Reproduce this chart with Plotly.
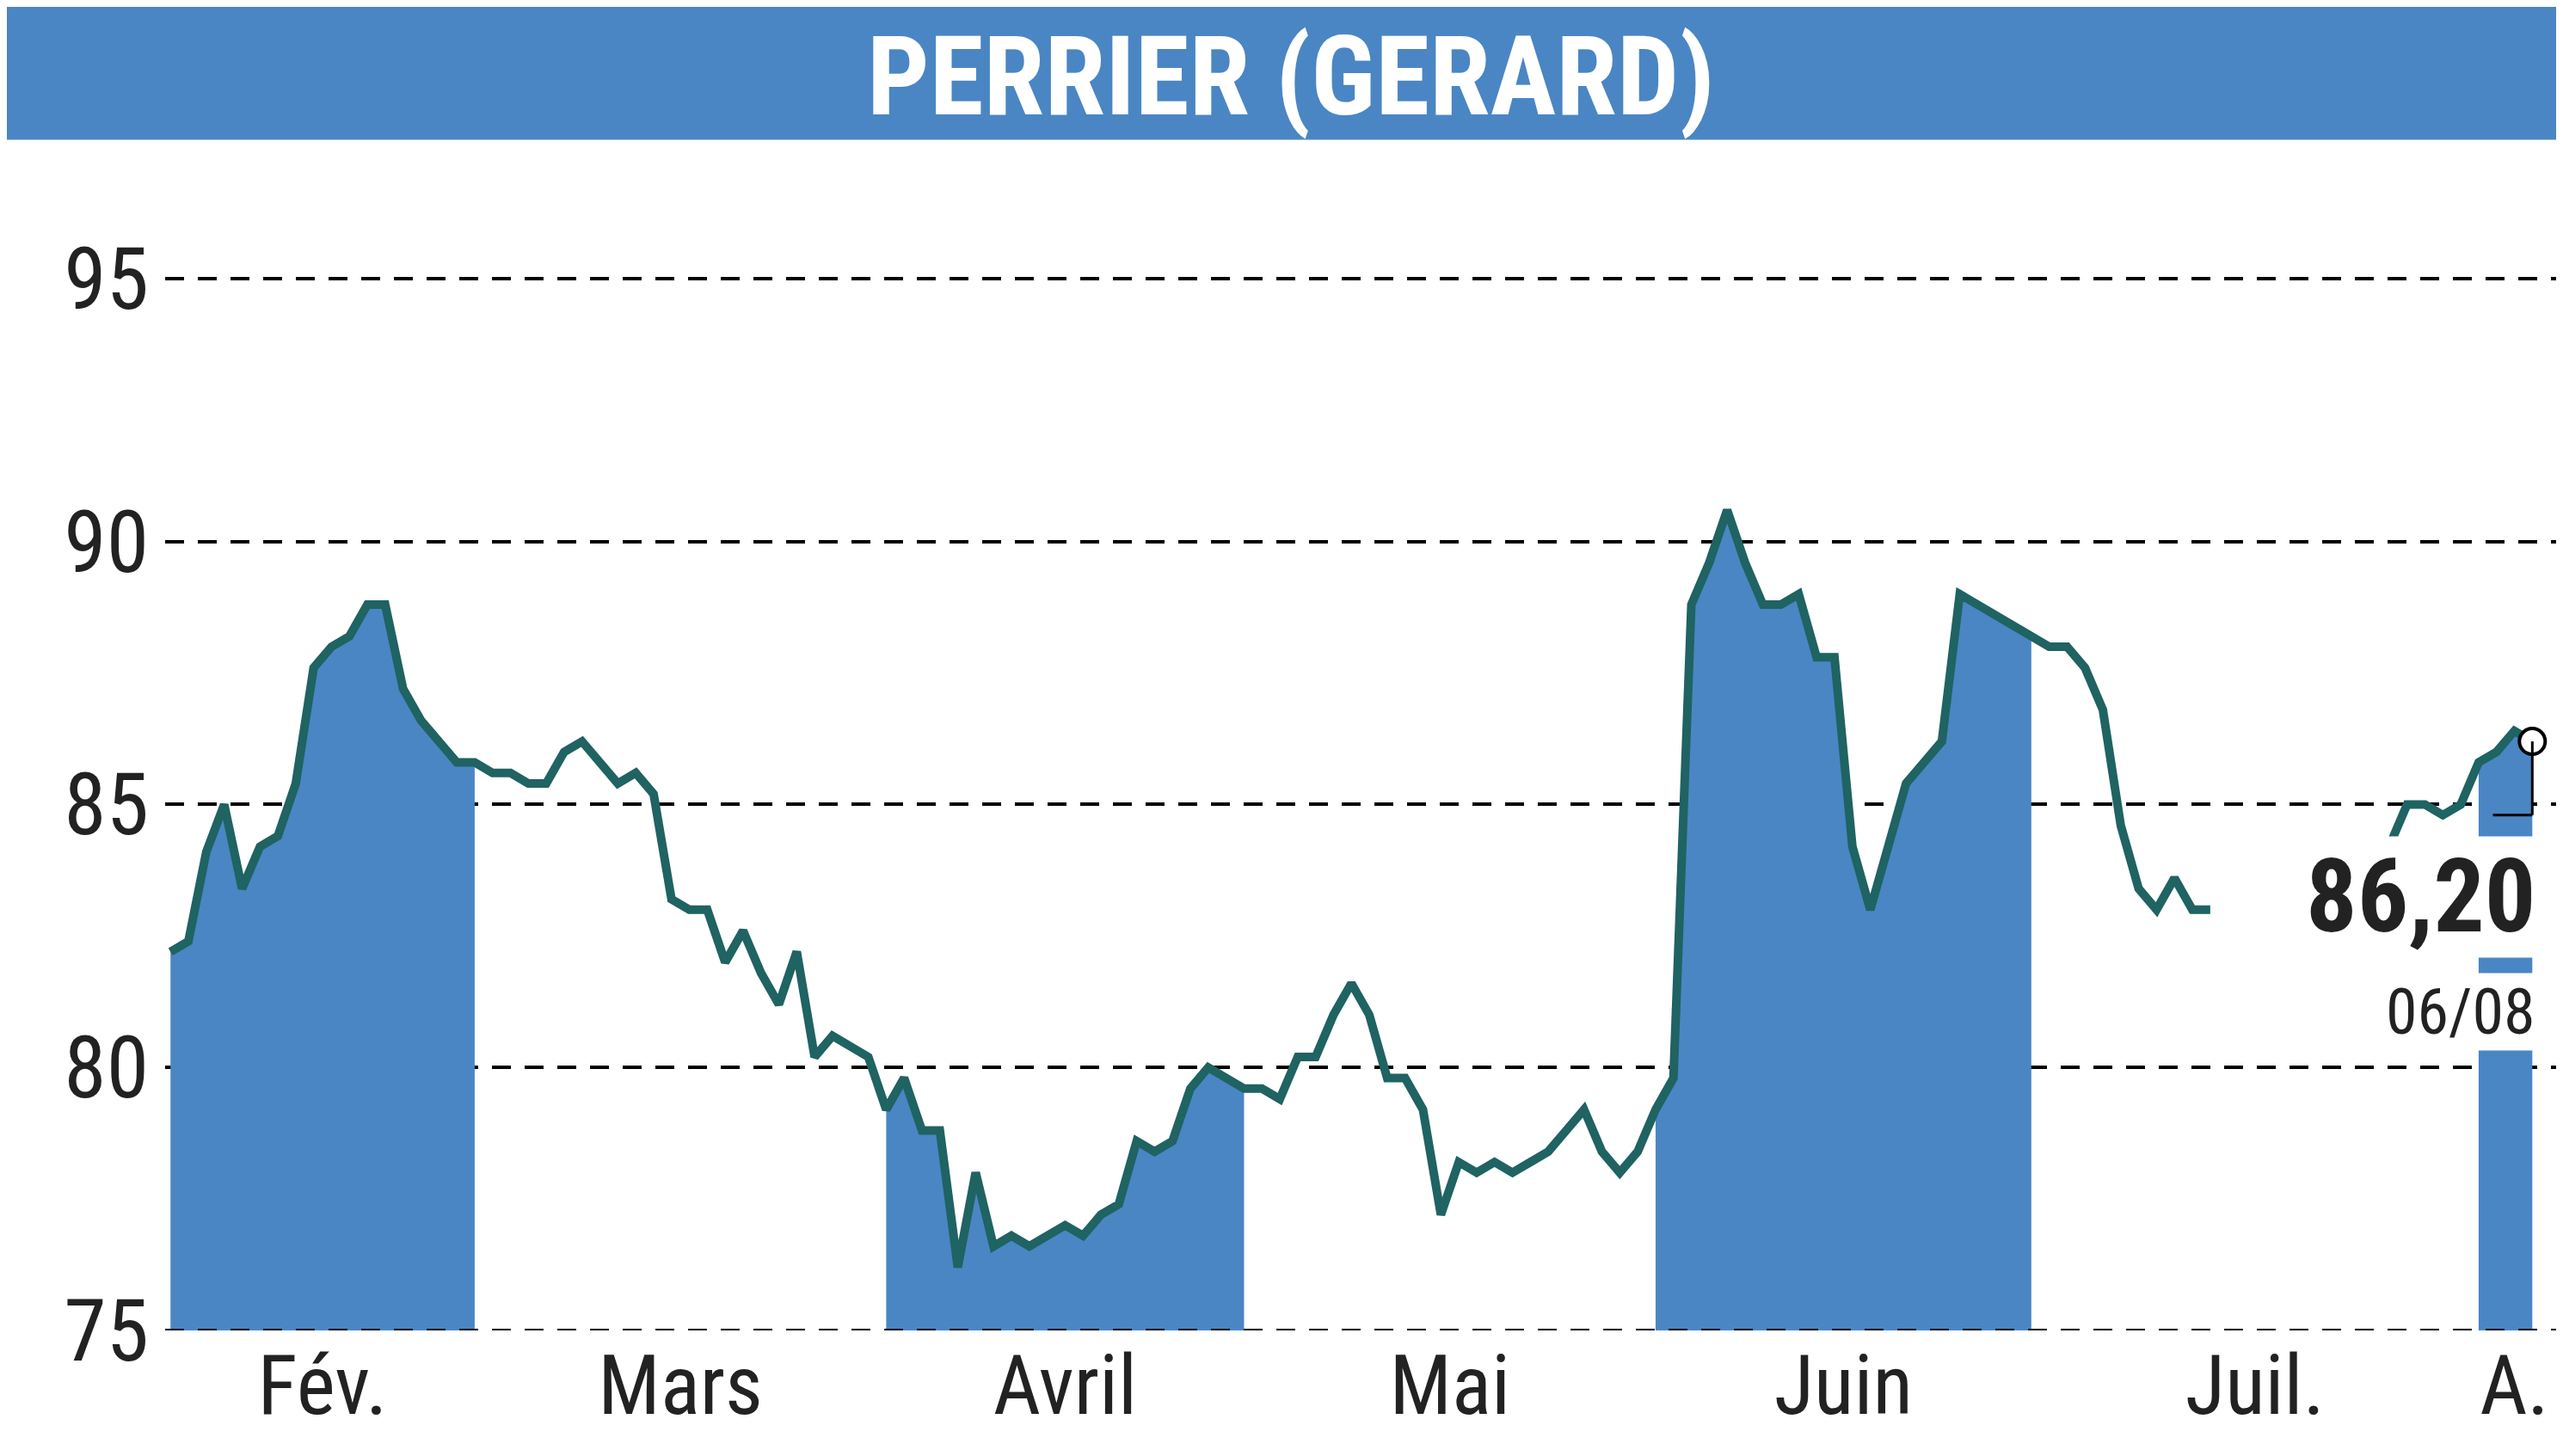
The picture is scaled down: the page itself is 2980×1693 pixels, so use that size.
import plotly.graph_objects as go

feb = [82.2, 82.4, 84.1, 85.0, 83.4, 84.2, 84.4, 85.4, 87.6, 88.0, 88.2, 88.8, 88.8, 87.2, 86.6, 86.2, 85.8, 85.8]
mar = [85.6, 85.6, 85.4, 85.4, 86.0, 86.2, 85.8, 85.4, 85.6, 85.2, 83.2, 83.0, 83.0, 82.0, 82.6, 81.8, 81.2, 82.2, 80.2, 80.6, 80.4, 80.2]
apr = [79.2, 79.8, 78.8, 78.8, 76.2, 78.0, 76.6, 76.8, 76.6, 76.8, 77.0, 76.8, 77.2, 77.4, 78.6, 78.4, 78.6, 79.6, 80.0, 79.8, 79.6]
may = [79.6, 79.4, 80.2, 80.2, 81.0, 81.6, 81.0, 79.8, 79.8, 79.2, 77.2, 78.2, 78.0, 78.2, 78.0, 78.2, 78.4, 78.8, 79.2, 78.4, 78.0, 78.4]
jun = [79.2, 79.8, 88.8, 89.6, 90.6, 89.6, 88.8, 88.8, 89.0, 87.8, 87.8, 84.2, 83.0, 84.2, 85.4, 85.8, 86.2, 89.0, 88.8, 88.6, 88.4, 88.2]
jul = [88.0, 88.0, 87.6, 86.8, 84.6, 83.4, 83.0, 83.6, 83.0, 83.0] + [None] * 9 + [84.2, 85.0, 85.0, 84.8, 85.0]
aug = [85.8, 86.0, 86.4, 86.2]

month_names = ["Fév.", "Mars", "Avril", "Mai", "Juin", "Juil.", "A."]
month_vals = [feb, mar, apr, may, jun, jul, aug]
shaded = [True, False, True, False, True, False, True]

LINE = "#1f6362"
FILL = "#4a86c4"
FONT = "Roboto Condensed, Liberation Sans Narrow, DejaVu Sans Condensed, sans-serif"

fig = go.Figure()
all_x, all_y, tickvals = [], [], []
i0 = 0
for vals, sh in zip(month_vals, shaded):
    xs = list(range(i0, i0 + len(vals)))
    tickvals.append(i0 + (len(vals) - 1) / 2)
    if sh:
        fig.add_trace(go.Scatter(x=xs, y=vals, mode="lines", line=dict(width=0),
                                 fill="tozeroy", fillcolor=FILL, hoverinfo="skip", showlegend=False))
    all_x += xs
    all_y += vals
    i0 += len(vals)
tickvals[-1] = all_x[-1] - 1

fig.add_trace(go.Scatter(x=all_x, y=all_y, mode="lines", line=dict(color=LINE, width=10),
                         connectgaps=False, showlegend=False))

xl, yl = all_x[-1], all_y[-1]
fig.add_shape(type="line", x0=xl - 2.2, x1=xl, y0=84.8, y1=84.8, line=dict(color="black", width=3))
fig.add_shape(type="line", x0=xl, x1=xl, y0=84.8, y1=yl, line=dict(color="black", width=3))
fig.add_trace(go.Scatter(x=[xl], y=[yl], mode="markers",
                         marker=dict(size=30, color="white", line=dict(color="black", width=4)),
                         showlegend=False))

fig.add_annotation(x=xl, y=84.4, xanchor="right", yanchor="top",
                   text="<b>86,20</b>", showarrow=False, xshift=6,
                   font=dict(family=FONT, size=118, color="#222"), bgcolor="white")
fig.add_annotation(x=xl, y=81.8, xanchor="right", yanchor="top",
                   text="06/08", showarrow=False, xshift=6,
                   font=dict(family=FONT, size=74, color="#222"), bgcolor="white")

fig.add_shape(type="rect", xref="paper", yref="paper", x0=-1, x1=2, y0=1.004, y1=3,
              fillcolor=FILL, line=dict(width=0), layer="below")
fig.add_annotation(xref="paper", yref="paper", x=0.468, y=1.0, yshift=156, yanchor="top",
                   text="<b>PERRIER (GERARD)</b>", showarrow=False,
                   font=dict(family=FONT, size=128, color="white"))

fig.update_layout(
    width=2980, height=1693,
    margin=dict(l=184, r=0, t=160, b=154),
    plot_bgcolor="white", paper_bgcolor="white",
    font=dict(family=FONT, color="#222"),
    xaxis=dict(range=[-0.3, all_x[-1] + 2.1], tickvals=tickvals, ticktext=month_names,
               tickfont=dict(size=96), showgrid=False, zeroline=False, ticks="", showline=False),
    yaxis=dict(range=[75, 97.55], tickvals=[75, 80, 85, 90, 95], tickfont=dict(size=100),
               showgrid=True, gridcolor="black", griddash="22px,16px", gridwidth=4,
               zeroline=False, ticks="", ticklabelstandoff=18),
)
fig.add_hline(y=75, line=dict(color="black", width=4, dash="22px,16px"))

fig.write_html("out.html")
